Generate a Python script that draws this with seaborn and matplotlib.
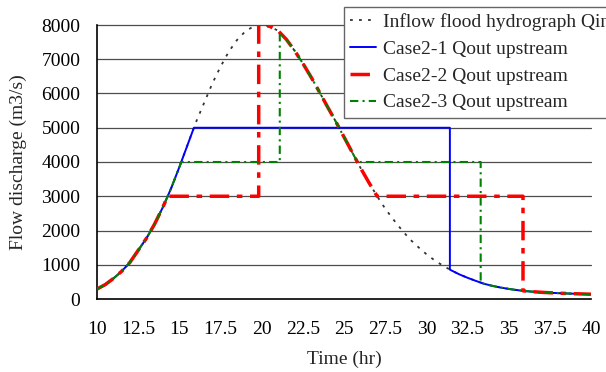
import numpy as np
import pandas as pd
import matplotlib
matplotlib.use("Agg")
import matplotlib.pyplot as plt
import seaborn as sns

# ---- data ----
hours = [10.0, 10.5, 11.0, 11.5, 12.0, 12.5, 13.0, 13.5, 14.0, 14.5,
         15.0, 15.5, 16.0, 16.5, 17.0, 17.5, 18.0, 18.5, 19.0, 19.5,
         20.0, 20.5, 21.0, 21.5, 22.0, 22.5, 23.0, 23.5, 24.0, 24.5,
         25.0, 25.5, 26.0, 26.5, 27.0, 27.5, 28.0, 28.5, 29.0, 29.5,
         30.0, 30.5, 31.0, 31.5, 32.0, 32.5, 33.0, 33.5, 34.0, 34.5,
         35.0, 35.5, 36.0, 36.5, 37.0, 37.5, 38.0, 38.5, 39.0, 39.5, 40.0]
inflow = [290, 420, 600, 810, 1070, 1420, 1770, 2190, 2680, 3230,
          3850, 4500, 5150, 5720, 6290, 6780, 7220, 7560, 7810, 7960,
          8000, 7960, 7830, 7580, 7250, 6880, 6480, 6050, 5610, 5180,
          4730, 4280, 3830, 3410, 3010, 2640, 2320, 2020, 1745, 1520,
          1310, 1130, 975, 840, 720, 620, 530, 445, 385, 335,
          295, 260, 232, 212, 196, 182, 171, 162, 154, 147, 140]

# release caps and gate-operation times for each case (hr)
case_labels = ["Case2-1 Qout upstream", "Case2-2 Qout upstream", "Case2-3 Qout upstream"]
case_caps = [5000, 3000, 4000]
case_t_up = [None, 19.82, 21.1]
case_t_drop = [31.43, 35.87, 33.3]

x_ticks = [10, 12.5, 15, 17.5, 20, 22.5, 25, 27.5, 30, 32.5, 35, 37.5, 40]
x_tick_labels = ["10", "12.5", "15", "17.5", "20", "22.5", "25", "27.5", "30", "32.5", "35", "37.5", "40"]
y_ticks = [0, 1000, 2000, 3000, 4000, 5000, 6000, 7000, 8000]


def release_curve(cap, t_up, t_drop):
    t = np.asarray(hours, float)
    q = np.asarray(inflow, float)
    ipk = int(np.argmax(q))
    t1 = np.interp(cap, q[:ipk + 1], t[:ipk + 1])
    t2 = np.interp(cap, q[ipk:][::-1], t[ipk:][::-1])
    ts, qs = [], []

    def add_inflow(a, b):
        m = (t > a) & (t < b)
        ts.extend(t[m]); qs.extend(q[m])

    add_inflow(-np.inf, t1)
    ts.append(t1); qs.append(cap)
    if t_up is not None and t_up < t2:
        ts += [t_up, t_up]; qs += [cap, np.interp(t_up, t, q)]
        add_inflow(t_up, t2)
        ts.append(t2); qs.append(cap)
    ts += [t_drop, t_drop]; qs += [cap, np.interp(t_drop, t, q)]
    add_inflow(t_drop, np.inf)
    return pd.DataFrame({"t": ts, "q": qs})


sns.set_style("white")
plt.rcParams["font.family"] = ["Liberation Serif", "DejaVu Serif"]
plt.rcParams["lines.scale_dashes"] = False

FS = 14
fig = plt.figure(figsize=(6.06, 3.72), dpi=100)
ax = fig.add_axes([97 / 606, 1 - 299 / 372, (591 - 97) / 606, (299 - 25) / 372])

# gridlines
for yv in y_ticks[1:]:
    ax.axhline(yv, color="0.3", lw=0.9, zorder=0, clip_on=False)

df_in = pd.DataFrame({"t": hours, "q": inflow})
sns.lineplot(data=df_in, x="t", y="q", ax=ax, sort=False, estimator=None,
             color="#333333", lw=1.3, linestyle=(0, (2.0, 4.5)),
             label="Inflow flood hydrograph Qin", zorder=2)

styles = [
    dict(color="#0000ff", lw=1.4, linestyle="-", zorder=3),
    dict(color="#ff0000", lw=2.5, linestyle=(0, (14, 5.5, 4, 5.5)), zorder=4),
    dict(color="#008000", lw=1.5, linestyle=(0, (6, 3, 1.5, 3)), zorder=5),
]
for lab, cap, tu, td, st in zip(case_labels, case_caps, case_t_up, case_t_drop, styles):
    d = release_curve(cap, tu, td)
    sns.lineplot(data=d, x="t", y="q", ax=ax, sort=False, estimator=None, label=lab, **st)

ax.set_xlim(10, 40)
ax.set_ylim(0, 8000)
ax.set_xticks(x_ticks)
ax.set_xticklabels(x_tick_labels)
ax.set_yticks(y_ticks)
ax.tick_params(axis="x", direction="in", length=5, width=1, pad=16, labelsize=FS, colors="black")
ax.tick_params(axis="y", direction="in", length=5, width=1, pad=12, labelsize=FS, colors="black")
for s in ["top", "right"]:
    ax.spines[s].set_visible(False)
for s in ["left", "bottom"]:
    ax.spines[s].set_color("black")
    ax.spines[s].set_linewidth(1.2)
ax.set_xlabel("Time (hr)", fontsize=FS, labelpad=9)
ax.set_ylabel("Flow discharge (m3/s)", fontsize=FS, labelpad=10)

leg = ax.legend(loc="upper left", bbox_to_anchor=(344 / 606, 1 - 7 / 372),
                bbox_transform=fig.transFigure, frameon=True, fancybox=False,
                edgecolor="0.4", framealpha=1, fontsize=FS, borderpad=0.32,
                handlelength=1.35, handletextpad=0.35, labelspacing=0.47,
                borderaxespad=0)
leg.get_frame().set_linewidth(1.0)

fig.savefig("out.png", dpi=100)
